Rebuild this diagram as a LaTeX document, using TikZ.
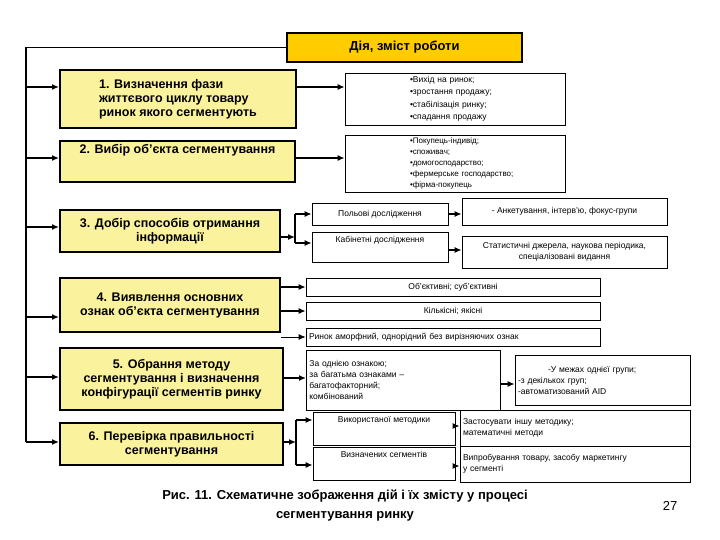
\documentclass[tikz,border=0pt]{standalone}
\usepackage{fontspec}
\setmainfont{Liberation Sans}
\usetikzlibrary{arrows.meta}
\definecolor{ybox}{HTML}{FAF29C}
\definecolor{obox}{HTML}{FFCC00}
\begin{document}
\begin{tikzpicture}[x=1pt,y=-1pt,
  main/.style={draw,line width=2pt,fill=ybox,font=\fontsize{12.5}{14}\selectfont\bfseries,align=center,inner sep=2pt},
  sm/.style={draw,line width=0.8pt,font=\fontsize{8.5}{11}\selectfont,inner sep=2pt},
  arr/.style={-{Latex[length=7pt,width=6pt]},line width=1.3pt},
  thk/.style={line width=1.6pt}]
\useasboundingbox (0,0) rectangle (720,540);
\fill[white] (0,0) rectangle (720,540);
\node[draw,line width=1.5pt,fill=obox,minimum width=235,minimum height=29,font=\fontsize{13}{15}\selectfont\bfseries] (top) at (404.5,47.5) {Дія, зміст роботи};
\node[main,minimum width=236,minimum height=58,align=left] (b1) at (178,99) {1. Визначення фази\\ життєвого циклу товару\\ ринок якого сегментують};
\node[main,minimum width=235,minimum height=41,anchor=north,text height=9pt,text depth=24pt] (b2) at (177.5,140) {2. Вибір об’єкта сегментування};
\node[main,minimum width=220,minimum height=42] (b3) at (170,231) {3. Добір способів отримання\\ інформації};
\node[main,minimum width=220,minimum height=54] (b4) at (170,305) {4. Виявлення основних\\ ознак об’єкта сегментування};
\node[main,minimum width=223,minimum height=62] (b5) at (171.5,379) {5. Обрання методу\\ сегментування і визначення\\ конфігурації сегментів ринку};
\node[main,minimum width=223,minimum height=42] (b6) at (171.5,444) {6. Перевірка правильності\\ сегментування};
% left bus
\coordinate (c0) at (26,47.5);
\coordinate (cb) at (26,442);
\draw[thk] (top.west) -- (c0) -- (cb);
\foreach \b/\y in {b1/87,b2/158,b3/227,b4/317,b5/377,b6/442}
  \draw[arr] (26,\y) -- (\b.west |- 0,\y);
% right boxes
\node[sm,minimum width=220,minimum height=52,align=left,text width=170,font=\fontsize{8.5}{12.5}\selectfont] (r1) at (455,99) {\hspace*{40pt}•Вихід на ринок;\\ \hspace*{40pt}•зростання продажу;\\ \hspace*{40pt}•стабілізація ринку;\\ \hspace*{40pt}•спадання продажу};
\node[sm,minimum width=220,minimum height=57,align=left,text width=170,font=\fontsize{8}{11}\selectfont] (r2) at (455,163.5) {\hspace*{40pt}•Покупець-індивід;\\ \hspace*{40pt}•споживач;\\ \hspace*{40pt}•домогосподарство;\\ \hspace*{40pt}•фермерське господарство;\\ \hspace*{40pt}•фірма-покупець};
\draw[arr] (b1.east |- 0,87) -- (r1.west |- 0,87);
\draw[arr] (b2.east |- 0,158) -- (r2.west |- 0,158);
\node[sm,minimum width=136,minimum height=22] (p) at (380,214) {Польові дослідження};
\node[sm,minimum width=136,minimum height=30,anchor=north,text height=7pt,text depth=16pt] (k) at (380,232) {Кабінетні дослідження};
\node[sm,minimum width=205,minimum height=27] (a) at (564.5,211.5) {- Анкетування, інтерв’ю, фокус-групи};
\node[sm,minimum width=205,minimum height=32,align=center] (s) at (564.5,252) {Статистичні джерела, наукова періодика,\\ спеціалізовані видання};
\coordinate (f3) at (295,237);
\draw[arr] (b3.east |- f3) -- (f3);
\draw[thk] (295,214) -- (295,243);
\draw[arr] (295,214) -- (p.west);
\draw[arr] (295,243) -- (k.west |- 0,243);
\draw[arr] (p.east) -- (a.west |- p.east);
\draw[arr] (k.east |- 0,250) -- (s.west |- 0,250);
\node[sm,minimum width=294,minimum height=18] (o) at (453,287) {Об’єктивні; суб’єктивні};
\node[sm,minimum width=294,minimum height=18] (kl) at (453,311) {Кількісні; якісні};
\node[sm,minimum width=294,minimum height=18,align=left,text width=288] (rn) at (453,337) {Ринок аморфний, однорідний без вирізняючих ознак};
\draw[arr] (b4.east |- o) -- (o.west);
\draw[arr] (b4.east |- kl) -- (kl.west);
\draw[arr,line width=0.8pt] (b4.east |- rn) -- (rn.west);
\node[sm,minimum width=194,minimum height=60,align=left,anchor=north west,text width=188] (z) at (306,350) {За однією ознакою;\\ за багатьма ознаками –\\ багатофакторний;\\ комбінований};
\node[sm,minimum width=175,minimum height=50,align=left,text width=169] (u) at (602.5,380) {\hspace*{30pt}-У межах однієї групи;\\ -з декількох груп;\\ -автоматизований AID};
\draw[arr] (b5.east |- 0,378) -- (z.west |- 0,378);
\draw[arr] (z.east |- 0,384) -- (u.west |- 0,384);
\node[sm,minimum width=142,minimum height=33,text height=7pt,text depth=20pt] (v) at (384,428.5) {Використаної методики};
\node[sm,minimum width=142,minimum height=33,text height=7pt,text depth=20pt] (vz) at (384,463.5) {Визначених сегментів};
\node[sm,minimum width=230,minimum height=36,align=left,text width=224] (zs) at (575,428) {Застосувати іншу методику;\\ математичні методи};
\node[sm,minimum width=230,minimum height=36,align=left,text width=224] (vp) at (575,464) {Випробування товару, засобу маркетингу\\ у сегменті};
\coordinate (f6) at (296,442);
\draw[arr] (b6.east |- f6) -- (f6);
\draw[thk] (296,420) -- (296,465);
\draw[arr] (296,420) -- (v.west |- 0,420);
\draw[arr] (296,465) -- (vz.west |- 0,465);
\draw[arr] (v.east |- 0,426) -- (zs.west |- 0,426);
\draw[arr] (vz.east |- 0,466) -- (vp.west |- 0,466);
\node[font=\fontsize{13}{19}\selectfont\bfseries,align=center] (cap) at (345,506) {Рис. 11. Схематичне зображення дій і їх змісту у процесі\\ сегментування ринку};
\node[font=\fontsize{13}{15}\selectfont] (pg) at (670,506) {27};
\end{tikzpicture}
\end{document}
